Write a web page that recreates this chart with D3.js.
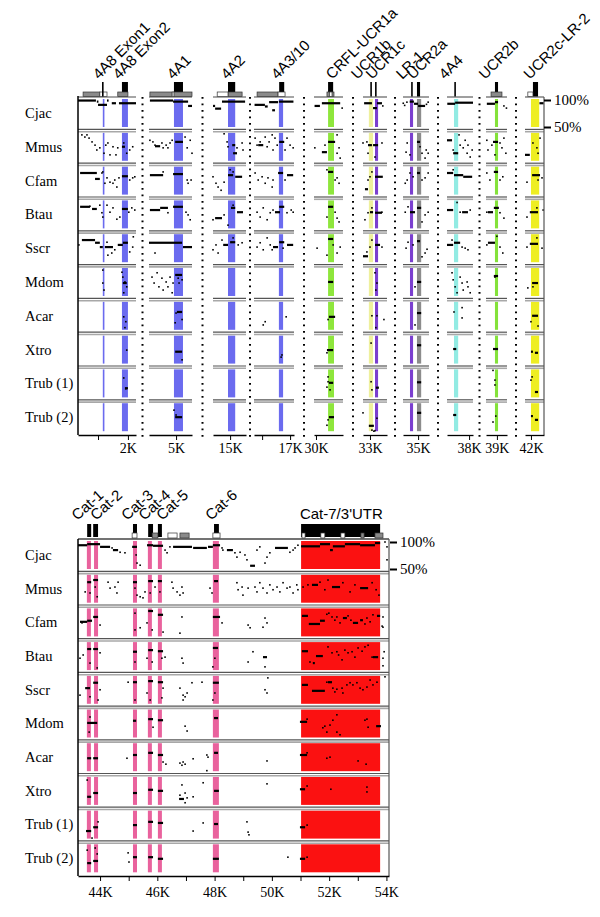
<!DOCTYPE html>
<html>
<head>
<meta charset="utf-8">
<script src="https://cdn.jsdelivr.net/npm/d3@7"></script>
<style>
  body { margin: 0; background: #fff; }
  svg { display: block; }
</style>
</head>
<body>
<div id="chart"></div>
<script>
// ---- data -------------------------------------------------------------
const species = ['Cjac', 'Mmus', 'Cfam', 'Btau', 'Sscr', 'Mdom', 'Acar', 'Xtro', 'Trub (1)', 'Trub (2)'];

// upper plot: separate genomic windows (kb)
const windows = [[0.33, 2.27], [4.1, 5.53], [14.43, 15.53], [15.71, 17.14], [29.93, 30.96],
                 [32.75, 33.61], [34.46, 35.39], [37.21, 38.14], [38.61, 39.36], [41.79, 42.46]];
const windowTicks = [[1, ''], [2, '2K'], [5, '5K'], [15, '15K'], [16, ''], [17, '17K'], [30, '30K'],
                     [33, '33K'], [35, '35K'], [38, '38K'], [39, '39K'], [42, '42K']];

// conserved elements [name, startKb, endKb]
const topFeatures = [['4A8 Exon1', 1.16, 1.2], ['4A8 Exon2', 1.8, 2.0], ['4A1', 4.93, 5.23], ['4A2', 14.93, 15.17],
                     ['4A3/10', 16.6, 16.75], ['CRFL-UCR1a', 30.43, 30.64], ['UCR1b', 32.96, 33.11], ['UCR1c', 33.18, 33.29],
                     ['LR-1', 34.71, 34.82], ['UCR2a', 34.96, 35.11], ['4A4', 37.46, 37.61], ['UCR2b', 38.93, 39.04],
                     ['UCR2c-LR-2', 42.0, 42.29]];
const topLabels = [['4A8 Exon1', 1.03], ['4A8 Exon2', 1.7], ['4A1', 4.9], ['4A2', 14.9], ['4A3/10', 16.54],
                   ['CRFL-UCR1a', 30.57], ['UCR1b', 32.54], ['UCR1c', 33.07], ['LR-1', 34.43], ['UCR2a', 34.82],
                   ['4A4', 37.14], ['UCR2b', 38.57], ['UCR2c-LR-2', 41.96]];
// gene model [startKb, endKb, kind]
const topGene = [[0.5, 1.06, 'utr'], [1.06, 1.3, 'white'], [1.16, 1.16, 'line'], [1.8, 2.0, 'cds'], [1.66, 2.0, 'utr'],
                 [4.13, 4.87, 'utr'], [4.87, 4.93, 'white'], [4.93, 5.23, 'cds'], [4.9, 5.53, 'utr'],
                 [14.57, 14.93, 'white'], [14.93, 15.17, 'cds'], [14.93, 15.4, 'utr'],
                 [15.82, 16.57, 'utr'], [16.61, 16.79, 'cds'], [16.57, 16.82, 'white'],
                 [30.43, 30.61, 'cds'], [30.39, 30.64, 'utr'], [30.48, 30.57, 'white'],
                 [33.04, 33.04, 'line'], [33.21, 33.21, 'line'], [34.78, 34.78, 'line'], [34.96, 35.07, 'cdsFull'],
                 [37.5, 37.5, 'line'], [38.93, 39.04, 'cds'], [38.79, 39.18, 'utr'],
                 [42.07, 42.25, 'cdsFull'], [41.89, 42.07, 'white']];

// lower plot: continuous 43-54 kb
const botDomain = [43.23, 54.09];
const botTicks = [44, 45, 46, 47, 48, 49, 50, 51, 52, 53, 54];
const botFeatures = [['Cat-1', 43.54, 43.68], ['Cat-2', 43.79, 43.93], ['Cat-3', 45.15, 45.29], ['Cat-4', 45.67, 45.81],
                     ['Cat-5', 46.02, 46.16], ['Cat-6', 47.94, 48.15], ["Cat-7/3'UTR", 51.02, 53.78]];
const botLabels = [['Cat-1', 43.2], ['Cat-2', 43.86], ['Cat-3', 44.94], ['Cat-4', 45.54], ['Cat-5', 46.16], ['Cat-6', 47.87]];
const botFlatLabel = ["Cat-7/3'UTR", 50.98];
const botGene = [[43.55, 43.69, 'cds'], [43.76, 43.93, 'cds'], [45.15, 45.29, 'cds'], [45.12, 45.29, 'white'],
                 [45.68, 45.85, 'cds'], [45.82, 46.02, 'utr'], [46.02, 46.16, 'cds'], [46.37, 46.69, 'white'],
                 [46.79, 47.11, 'utr'], [47.98, 48.15, 'cds'], [47.94, 48.19, 'white'], [51.02, 53.78, 'cds'],
                 [51.05, 51.16, 'white'], [51.71, 51.85, 'white'], [52.41, 52.55, 'white'],
                 [53.11, 53.22, 'utr'], [53.6, 53.88, 'utr']];

// % identity marks: [kb, pct] dot or [startKb, endKb, pct] run
const cjacTop = [[0.33,0.93,99],[0.96,1.0,97],[1.0,1.3,91],[1.3,1.32,99],[1.46,1.6,94],[1.7,2.27,94],
  [4.13,4.9,99],[4.9,5.4,97],[5.4,5.53,89],[14.43,14.5,89],[14.5,14.7,84],[14.73,15.5,97],
  [15.73,16.1,91],[16.1,16.2,88],[16.25,16.57,96],[16.36,16.46,81],[16.6,17.12,97],
  [29.95,30.14,89],[30.21,30.86,94],[30.93,85],[32.79,33.07,94],[33.11,33.25,85],[33.25,33.43,94],[33.46,89],
  [34.47,94],[34.52,90],[34.6,96],[34.7,34.85,97],[34.85,35.0,93],[35.0,35.25,89],[35.3,92],[35.36,96],
  [37.22,37.5,93],[37.5,38.14,95],[38.64,38.93,93],[38.93,39.04,96],[39.25,89],[39.34,85],[42.3,42.45,94]];
const mmusTop = [[0.46,98],[0.56,94],[0.63,98],[0.7,92],[0.8,85],[0.9,79],[0.96,70],[1.06,74],[1.2,64],[1.26,79],
  [1.33,83],[1.4,61],[1.5,76],[1.6,61],[1.66,74],[1.8,1.9,76],[1.86,83],[1.96,64],[2.06,70],[2.16,76],
  [4.13,88],[4.23,85],[4.3,79],[4.3,4.47,77],[4.53,83],[4.57,74],[4.67,79],[4.73,74],[4.8,83],[4.87,88],
  [4.97,5.23,85],[5.3,94],[5.37,74],[5.47,88],[5.53,64],
  [14.8,100],[14.9,85],[14.93,76],[15.07,15.17,79],[15.1,15.23,64],[15.23,74],[15.4,83],[15.43,70],
  [15.75,92],[15.82,79],[15.93,85],[15.86,16.04,79],[16.11,94],[16.18,76],[16.25,85],[16.36,98],[16.39,70],
  [16.46,92],[16.54,79],[16.61,16.79,85],[16.82,70],[16.89,92],[17.0,79],[17.11,74],
  [29.96,74],[30.21,30.39,66],[30.32,79],[30.43,30.68,85],[30.75,98],[30.75,64],[30.82,74],[30.86,55],
  [32.75,83],[32.89,85],[32.93,33.07,79],[33.11,33.29,79],[32.93,64],[33.18,57],[33.43,83],
  [34.57,66],[34.61,83],[34.71,61],[34.96,35.07,85],[35.07,76],[35.14,64],[35.25,55],[35.29,70],[35.36,64],
  [37.21,37.39,88],[37.43,70],[37.43,37.61,64],[37.64,98],[37.68,79],[37.79,74],[37.86,88],[37.93,64],
  [37.96,79],[38.04,57],[38.11,70],
  [38.64,88],[38.68,70],[38.82,79],[38.86,39.04,85],[38.93,61],[39.11,83],[39.18,74],[39.25,92],[39.32,64],
  [41.79,41.96,61],[42.07,83],[42.21,74],[42.32,92],[42.25,64]];
const cfamTop = [[0.4,0.96,90],[0.9,1.06,79],[1.13,90],[1.16,92],[1.23,71],[1.3,81],[1.4,73],[1.5,71],[1.56,77],
  [1.63,64],[1.7,81],[1.8,2.0,84],[2.06,77],[2.16,81],[2.23,83],
  [4.13,4.57,86],[4.57,92],[4.9,5.23,88],[5.37,77],[5.4,71],[5.5,77],
  [14.43,83],[14.53,71],[14.6,64],[14.7,58],[14.8,73],[14.93,15.1,86],[15.0,96],[15.1,92],[15.17,15.4,83],
  [15.75,90],[15.86,77],[16.0,83],[16.11,71],[16.21,81],[16.36,64],[16.39,77],[16.57,16.75,90],[16.82,77],[16.89,17.11,86],
  [30.39,96],[30.43,30.61,92],[30.68,77],[30.75,81],[30.82,71],
  [32.82,32.93,60],[32.93,77],[33.0,83],[33.07,92],[33.18,33.46,83],
  [34.54,71],[34.61,77],[34.71,90],[34.82,83],[34.96,35.07,90],[35.14,77],[35.25,81],[35.36,90],
  [37.21,37.43,90],[37.43,96],[37.46,37.79,86],[37.79,38.11,83],
  [38.64,90],[38.75,77],[38.89,39.04,92],[39.11,77],[39.21,83],
  [41.86,73],[42.04,42.32,86],[42.25,77],[42.39,81]];
const btauTop = [[0.4,0.73,90],[0.73,91],[0.8,0.96,86],[1.06,93],[1.13,79],[1.16,71],[1.3,93],[1.4,80],[1.5,88],
  [1.63,67],[1.73,71],[1.8,2.0,86],[2.03,80],[2.13,88],[2.23,84],
  [4.13,4.47,84],[4.47,4.73,88],[4.73,79],[4.9,5.23,90],[5.33,80],[5.4,75],[5.47,66],
  [14.43,66],[14.5,14.73,69],[14.8,75],[14.93,56],[15.03,15.17,88],[15.1,93],[15.23,15.43,80],
  [15.82,80],[15.93,71],[16.04,88],[16.18,66],[16.29,79],[16.39,84],[16.46,16.64,80],[16.61,16.79,90],
  [16.89,79],[17.04,84],[17.11,80],
  [30.39,71],[30.43,30.61,90],[30.68,80],[30.75,69],[30.82,62],
  [32.82,66],[32.93,79],[33.0,33.11,80],[33.18,33.43,79],[33.07,88],[33.43,80],
  [34.54,80],[34.64,90],[34.71,34.89,80],[34.96,35.11,88],[35.14,62],[35.25,75],[35.36,80],
  [37.21,37.43,84],[37.57,98],[37.68,80],[37.75,37.96,80],[38.04,84],
  [38.64,80],[38.68,38.86,80],[38.89,39.07,88],[39.11,79],[39.25,69],
  [41.86,71],[41.96,42.25,80],[42.21,88],[42.43,84]];
const sscrTop = [[0.36,82],[0.46,0.9,91],[0.9,1.06,86],[1.06,1.16,78],[1.23,1.5,78],[1.33,63],[1.46,67],[1.56,73],
  [1.3,87],[1.66,1.83,82],[1.83,2.0,86],[2.06,69],[2.16,78],[2.18,97],
  [4.1,5.2,86],[5.23,5.53,78],[4.3,67],
  [14.43,73],[14.53,82],[14.6,67],[14.73,91],[14.77,14.93,82],[15.0,15.17,87],[15.1,95],[15.27,82],[15.4,86],
  [15.82,78],[15.93,86],[16.04,73],[16.18,95],[16.29,82],[16.36,73],[16.39,16.57,78],[16.61,16.79,87],
  [16.75,76],[16.89,17.11,82],
  [30.04,76],[30.43,30.61,93],[30.61,82],[30.75,67],[30.86,78],[30.39,63],
  [32.75,32.93,61],[32.89,69],[33.0,78],[33.18,33.36,82],[33.07,91],[33.43,78],
  [34.57,76],[34.64,87],[34.82,82],[34.96,35.07,89],[35.14,60],[35.25,67],[35.32,74],
  [37.21,37.43,82],[37.39,91],[37.46,37.68,86],[37.75,78],[37.86,76],[37.96,73],
  [38.64,82],[38.68,38.93,86],[39.0,98],[39.11,78],[39.21,67],
  [41.86,78],[41.96,42.25,84],[42.21,95],[42.39,76]];
const mdomTop = [[1.16,98],[1.16,74],[1.2,61],[1.8,94],[1.83,85],[1.83,1.96,74],[1.9,76],[1.96,67],[1.86,56],
  [4.2,85],[4.27,74],[4.37,93],[4.43,67],[4.53,83],[4.57,61],[4.67,76],[4.73,67],[4.8,85],[4.87,56],[4.9,74],
  [4.97,5.2,89],[5.07,83],[5.2,80],[5.1,74],
  [30.43,30.61,76],[33.18,93],[33.25,74],[33.21,61],[34.96,35.11,76],[34.89,67],
  [37.39,93],[37.43,80],[37.5,67],[37.57,56],[37.68,85],[37.75,74],[37.79,61],[37.93,76],[37.96,67],[38.04,56],
  [38.89,39.04,87],[38.93,85],[41.89,65],[42.04,42.25,74],[42.07,67]];
const acarTop = [[1.86,74],[1.93,65],[1.9,54],[5.03,5.2,83],[4.97,63],[5.2,69],[5.0,81],
  [16.04,59],[16.11,65],[16.86,74],[30.46,30.68,74],[30.43,69],
  [33.07,76],[33.25,76],[33.5,69],[33.21,54],[34.96,35.11,81],[34.89,59],
  [37.46,83],[37.75,91],[37.75,72],[42.04,42.25,76],[42.0,65],[42.25,57]];
const xtroTop = [[1.96,75],[4.97,5.2,72],[5.2,57],[16.71,66],[16.68,62],[30.39,30.61,75],[30.39,70],
  [33.04,88],[34.96,35.11,84],[37.43,37.54,77],[38.86,39.04,77],[42.0,42.07,72],[42.14,42.25,70]];
const trub1Top = [[1.86,86],[1.93,66],[1.9,2.0,67],[30.43,79],[30.46,30.61,77],[30.39,69],[30.5,64],[30.43,88],
  [33.04,79],[33.21,33.32,68],[33.07,64],[34.96,35.11,78],[38.93,82],[38.93,73],[38.86,100],
  [42.04,88],[42.0,82],[42.14,42.25,60]];
const trub2Top = [[4.97,5.2,76],[4.93,89],[5.0,80],[30.46,30.64,76],[30.39,61],[30.43,71],
  [32.75,84],[32.96,33.14,60],[33.07,52],[33.14,50],[33.25,74],[33.18,51],[34.96,35.11,84],[37.43,37.54,80],
  [38.86,67],[38.96,78],[42.0,42.07,78],[42.14,42.25,71]];

const cjacBot = [[43.23,43.55,94],[43.55,44.0,96],[44.0,44.35,91],[44.42,89],[44.45,44.63,85],[44.7,81],[44.87,80],
  [45.12,45.29,91],[45.26,76],[45.29,61],[45.4,57],[45.64,45.85,94],[45.85,46.2,93],[46.27,85],[46.34,80],[46.44,91],
  [46.55,47.21,91],[47.25,47.73,89],[47.77,47.94,91],[47.94,48.19,94],[48.26,89],[48.29,85],[48.43,48.64,85],
  [48.71,80],[48.78,72],[48.89,81],[49.06,76],[49.13,67],[49.24,49.41,56],[49.48,85],[49.58,91],[49.76,61],
  [49.83,72],[49.93,80],[50.11,50.56,89],[50.63,81],[50.74,85],[50.81,89],[50.91,94],
  [51.02,51.68,92],[51.68,52.03,96],[52.03,52.13,85],[52.13,52.55,92],[52.55,53.08,96],[53.08,53.6,94],
  [53.6,53.78,98],[53.95,100],[54.02,91],[54.02,67]];
const mmusBot = [[43.55,43.69,88],[43.48,70],[43.65,68],[43.76,43.93,92],[43.83,79],[43.9,61],[44.28,88],[44.35,77],
  [44.52,79],[44.59,68],[44.63,88],[45.15,45.29,88],[45.22,77],[45.29,64],[45.4,61],[45.5,59],[45.57,70],
  [45.68,45.85,90],[45.75,68],[45.92,79],[46.02,46.16,90],[46.09,70],[46.51,88],[46.55,77],[46.69,70],[46.79,64],
  [46.9,68],[46.86,79],[47.84,77],[47.91,68],[47.98,48.12,90],[48.78,87],[48.82,74],[48.96,79],[48.99,64],
  [49.17,77],[49.41,79],[49.48,70],[49.58,87],[49.69,77],[49.83,68],[49.93,83],[50.04,74],[50.18,79],[50.28,70],
  [50.39,87],[50.53,77],[50.63,79],[50.74,68],[50.87,83],[50.91,74],
  [51.09,79],[51.26,83],[51.4,51.61,83],[51.68,88],[51.85,74],[51.96,92],[52.1,52.38,79],[52.48,87],[52.73,70],
  [52.9,83],[53.08,53.36,77],[53.5,87],[53.64,74],[53.74,64]];
const cfamBot = [[43.3,43.55,77],[43.37,75],[43.55,43.72,79],[43.76,43.93,86],[44.0,71],[45.22,93],[45.22,62],
  [45.4,66],[45.68,45.85,97],[45.64,75],[45.82,62],[46.02,46.2,90],[46.2,58],[46.86,86],[46.79,56],
  [47.94,48.19,86],[48.26,75],[49.17,71],[49.24,66],[49.76,84],[49.83,75],[49.69,67],
  [51.05,51.26,88],[51.29,51.68,73],[51.68,51.85,79],[51.92,91],[51.99,93],[52.1,86],[52.2,80],[52.27,86],
  [52.38,75],[52.48,52.62,84],[52.66,88],[52.76,80],[52.83,53.01,75],[53.08,53.18,80],[53.25,73],[53.32,84],
  [53.43,77],[53.53,90],[53.67,53.78,88],[53.88,86],[53.85,69],[53.88,67]];
const btauBot = [[43.3,72],[43.41,78],[43.55,43.69,89],[43.65,63],[43.76,43.93,89],[44.0,82],[43.9,54],
  [45.15,45.29,84],[45.22,65],[45.68,45.85,87],[45.64,72],[45.82,65],[46.02,46.2,85],[46.16,72],[46.27,74],
  [46.86,72],[46.9,63],[47.94,48.12,91],[48.01,72],[47.94,56],[49.17,65],[49.34,84],[49.69,49.83,74],[49.76,56],
  [51.05,51.26,85],[51.33,65],[51.43,51.5,63],[51.54,51.78,76],[51.96,93],[52.1,82],[52.27,84],[52.33,78],
  [52.45,69],[52.55,87],[52.66,82],[52.8,84],[52.9,74],[53.01,91],[53.15,85],[53.25,93],[53.36,96],[53.5,74],
  [53.53,53.71,74],[53.92,84],[53.88,72],[53.88,58]];
const sscrBot = [[43.3,66],[43.48,43.65,79],[43.65,63],[43.76,43.93,89],[44.0,76],[43.93,57],[44.98,90],
  [45.15,45.29,90],[45.22,57],[45.68,45.85,92],[45.64,70],[45.75,57],[46.02,46.2,90],[46.2,79],[46.16,61],
  [46.79,79],[46.9,66],[46.97,63],[47.04,70],[46.9,57],[47.21,89],[47.56,90],[47.94,48.15,89],[48.01,70],
  [47.94,57],[49.76,76],[49.83,70],[49.86,98],
  [51.05,51.26,85],[51.4,51.85,74],[51.92,90],[51.96,52.1,90],[52.13,79],[52.2,72],[52.27,77],[52.45,79],
  [52.48,70],[52.62,85],[52.73,89],[52.83,85],[52.97,89],[53.08,79],[53.18,76],[53.32,81],[53.43,94],[53.53,85],
  [53.67,90],[53.95,100]];
const mdomBot = [[43.55,43.9,77],[43.65,88],[43.62,60],[45.15,45.26,81],[45.68,45.85,84],[46.02,46.2,82],[45.85,69],
  [46.97,71],[47.04,62],[47.98,48.12,86],
  [50.98,51.23,79],[51.23,84],[51.78,68],[51.92,60],[51.85,71],[52.03,73],[52.13,82],[52.27,92],[52.27,60],
  [52.38,55],[53.25,82],[53.32,84],[53.36,69],[53.64,53.81,71]];
const acarBot = [[43.55,43.69,74],[43.76,43.93,74],[44.94,74],[45.15,45.29,80],[45.68,45.85,84],[46.02,46.2,80],
  [46.2,67],[46.3,63],[46.79,65],[46.86,61],[46.97,63],[46.9,67],[47.25,73],[47.73,80],[47.77,76],
  [47.98,48.12,84],[47.73,51],[49.83,69],
  [50.98,51.23,80],[51.23,84],[51.92,74],[52.03,76],[53.01,69],[53.29,63]];
const xtroBot = [[43.55,96],[43.55,43.69,65],[43.76,43.93,72],[45.15,45.29,72],[45.68,45.85,78],[46.02,46.2,76],
  [46.86,87],[46.79,68],[46.76,46.93,61],[46.97,72],[47.04,63],[46.97,54],[47.25,65],[47.6,91],
  [47.98,48.15,76],[49.83,89],
  [50.98,51.16,79],[51.23,85],[52.06,79],[53.32,83],[53.32,74]];
const trub1Bot = [[43.51,43.69,64],[43.72,51],[43.76,43.93,71],[43.93,81],[45.15,45.29,75],[45.68,45.85,81],
  [46.02,46.2,79],[47.25,64],[47.6,79],[47.98,48.12,77],[49.13,81],[49.17,62],[49.2,57],
  [50.98,51.16,71],[51.23,75]];
const trub2Bot = [[43.55,91],[43.55,43.69,67],[43.76,43.93,71],[43.83,95],[43.9,84],[44.98,86],[45.01,69],
  [45.15,45.29,78],[45.68,45.85,78],[46.02,46.2,75],[47.94,48.15,75],[50.56,78],
  [50.98,51.16,75],[51.23,78]];

const topRows = [cjacTop, mmusTop, cfamTop, btauTop, sscrTop, mdomTop, acarTop, xtroTop, trub1Top, trub2Top];
const botRows = [cjacBot, mmusBot, cfamBot, btauBot, sscrBot, mdomBot, acarBot, xtroBot, trub1Bot, trub2Bot];

// ---- layout & style ---------------------------------------------------
const W = 600, H = 917;
const upper = { y0: 97, rowH: 33.8, left: 78, right: 544 };
const lower = { y0: 539, rowH: 33.7, left: 78, right: 389 };
const winPx = [[78, 136], [149, 192], [213, 246], [254, 294], [314, 343], [363, 387], [403, 429], [447, 473], [486, 507], [525, 544]];

const featColor = {
  '4A8 Exon1': '#6b6bef', '4A8 Exon2': '#6b6bef', '4A1': '#6b6bef', '4A2': '#6b6bef', '4A3/10': '#6b6bef',
  'CRFL-UCR1a': '#8ee63c', 'UCR1b': '#eef09c', 'UCR1c': '#7b3fcf', 'LR-1': '#7b3fcf', 'UCR2a': '#8c8c8c',
  '4A4': '#92ebe3', 'UCR2b': '#84e23a', 'UCR2c-LR-2': '#eeee22',
  'Cat-1': '#e9629d', 'Cat-2': '#e9629d', 'Cat-3': '#e9629d', 'Cat-4': '#e9629d', 'Cat-5': '#e9629d',
  'Cat-6': '#e9629d', "Cat-7/3'UTR": '#fb1111'
};
const SANS = '"Liberation Sans", Arial, sans-serif';
const SERIF = '"Liberation Serif", "Times New Roman", serif';

const svg = d3.select('#chart').append('svg')
  .attr('width', W).attr('height', H)
  .style('background', '#fff');

// ---- scales -----------------------------------------------------------
const winScales = windows.map((d, i) => d3.scaleLinear().domain(d).range(winPx[i]));
function winOf(kb) {
  let best = 0, bd = Infinity;
  windows.forEach((w, i) => {
    const dd = kb < w[0] ? w[0] - kb : (kb > w[1] ? kb - w[1] : 0);
    if (dd < bd) { bd = dd; best = i; }
  });
  return best;
}
const xTop = (kb, ref) => winScales[winOf(ref === undefined ? kb : ref)](kb);
const xBot = d3.scaleLinear().domain(botDomain).range([lower.left, lower.right]);

function rowScale(panel, i) {
  const r0 = panel.y0 + i * panel.rowH;
  return d3.scaleLinear().domain([50, 100]).range([r0 + 30, r0 + 3]).clamp(true);
}

// ---- drawing helpers --------------------------------------------------
function drawFeatureBars(g, feats, xOf, y) {
  g.selectAll(null).data(feats).join('rect')
    .attr('x', d => xOf(d[1]))
    .attr('y', y(100) - 1)
    .attr('width', d => Math.max(1.6, xOf(d[2], d[1]) - xOf(d[1])))
    .attr('height', y(50) - y(100) + 1)
    .attr('fill', d => featColor[d[0]]);
}

function drawMarks(g, marks, xOf, y) {
  g.selectAll(null).data(marks).join('rect')
    .attr('x', d => d.length === 3 ? xOf(d[0]) : xOf(d[0]) - 0.8)
    .attr('y', d => y(d[d.length - 1]) - (d.length === 3 ? 1.1 : 0.8))
    .attr('width', d => d.length === 3 ? Math.max(1.6, xOf(d[1], d[0]) - xOf(d[0])) : 1.6)
    .attr('height', d => d.length === 3 ? 2.2 : 1.6)
    .attr('fill', '#000');
}

function drawSeparator(g, x0, x1, yb) {
  g.append('line').attr('x1', x0).attr('x2', x1).attr('y1', yb - 1.4).attr('y2', yb - 1.4)
    .attr('stroke', '#555').attr('stroke-width', 1.2);
  g.append('line').attr('x1', x0).attr('x2', x1).attr('y1', yb + 0.9).attr('y2', yb + 0.9)
    .attr('stroke', '#a8a8a8').attr('stroke-width', 1.6);
}

function drawGene(g, parts, xOf, ys) {
  const order = { cds: 0, cdsFull: 0, utr: 1, white: 2, line: 3 };
  const sorted = parts.slice().sort((a, b) => order[a[2]] - order[b[2]]);
  sorted.forEach(p => {
    const x0 = xOf(p[0]), x1 = xOf(p[1], p[0]);
    if (p[2] === 'line') {
      g.append('line').attr('x1', x0).attr('x2', x0).attr('y1', ys.cds0).attr('y2', ys.low1)
        .attr('stroke', '#000').attr('stroke-width', 1.6);
      return;
    }
    const isCds = p[2] === 'cds' || p[2] === 'cdsFull';
    const yA = isCds ? ys.cds0 : ys.low0;
    const yB = p[2] === 'cds' ? ys.cds1 : ys.low1;
    g.append('rect').attr('x', x0).attr('y', yA)
      .attr('width', Math.max(1.5, x1 - x0)).attr('height', yB - yA)
      .attr('fill', isCds ? '#000' : (p[2] === 'utr' ? '#8a8a8a' : '#fff'))
      .attr('stroke', isCds ? 'none' : '#333').attr('stroke-width', 0.7);
  });
}

// ---- upper plot -------------------------------------------------------
const gU = svg.append('g');
species.forEach((sp, i) => {
  const y = rowScale(upper, i);
  drawFeatureBars(gU, topFeatures, xTop, y);
});
// row frames per window
winPx.forEach(([x0, x1]) => {
  gU.append('line').attr('x1', x0).attr('x2', x1).attr('y1', upper.y0).attr('y2', upper.y0)
    .attr('stroke', '#888').attr('stroke-width', 1.6);
  for (let i = 1; i < species.length; i++) drawSeparator(gU, x0, x1, upper.y0 + i * upper.rowH);
});
species.forEach((sp, i) => {
  const y = rowScale(upper, i);
  drawMarks(gU, topRows[i], xTop, y);
});
// dotted window dividers
const yEndU = upper.y0 + species.length * upper.rowH;
for (let k = 0; k < winPx.length - 1; k++) {
  const xd = (winPx[k][1] + winPx[k + 1][0]) / 2;
  gU.append('line').attr('x1', xd).attr('x2', xd).attr('y1', upper.y0).attr('y2', yEndU + 2)
    .attr('stroke', '#000').attr('stroke-width', 2).attr('stroke-dasharray', '1.8,4.7');
}
// left and right frames
gU.append('line').attr('x1', upper.left).attr('x2', upper.left).attr('y1', upper.y0 - 1).attr('y2', yEndU)
  .attr('stroke', '#000').attr('stroke-width', 1.5);
gU.append('line').attr('x1', upper.right).attr('x2', upper.right).attr('y1', upper.y0).attr('y2', yEndU)
  .attr('stroke', '#555').attr('stroke-width', 1.2);
// x axes per window
windows.forEach((w, k) => {
  const ticks = windowTicks.filter(t => winOf(t[0]) === k);
  const ax = d3.axisBottom(winScales[k]).tickValues(ticks.map(t => t[0]))
    .tickFormat(v => ticks.find(t => t[0] === v)[1]).tickSize(5).tickSizeOuter(0);
  const g = gU.append('g').attr('transform', `translate(0,${yEndU})`).call(ax);
  g.select('.domain').attr('stroke', '#000').attr('stroke-width', 1.3);
  g.selectAll('text').attr('font-family', SERIF).attr('font-size', 14).attr('fill', '#000');
});
// % axis
{
  const y = rowScale(upper, 0);
  const ax = d3.axisRight(y).tickValues([50, 100]).tickFormat(d => d + '%').tickSize(7).tickSizeOuter(0);
  const g = gU.append('g').attr('transform', `translate(${upper.right},0)`).call(ax);
  g.select('.domain').remove();
  g.selectAll('line').attr('stroke-width', 2);
  g.selectAll('text').attr('font-family', SERIF).attr('font-size', 15).attr('fill', '#000');
}
drawGene(gU, topGene, xTop, { cds0: 82, cds1: 92.5, low0: 92, low1: 96.5 });
gU.selectAll('text.feat').data(topLabels).join('text').attr('class', 'feat')
  .attr('transform', d => `translate(${xTop(d[1])},80) rotate(-45)`)
  .attr('font-family', SANS).attr('font-size', 15).text(d => d[0]);
gU.selectAll('text.sp').data(species).join('text').attr('class', 'sp')
  .attr('x', 25).attr('y', (d, i) => upper.y0 + i * upper.rowH + upper.rowH / 2 + 4)
  .attr('font-family', SERIF).attr('font-size', 14.5).text(d => d);

// ---- lower plot -------------------------------------------------------
const gL = svg.append('g');
const yEndL = lower.y0 + species.length * lower.rowH;
species.forEach((sp, i) => {
  const y = rowScale(lower, i);
  drawFeatureBars(gL, botFeatures, xBot, y);
});
gL.append('line').attr('x1', lower.left).attr('x2', lower.right).attr('y1', lower.y0).attr('y2', lower.y0)
  .attr('stroke', '#444').attr('stroke-width', 1.3);
for (let i = 1; i < species.length; i++) drawSeparator(gL, lower.left, lower.right, lower.y0 + i * lower.rowH);
species.forEach((sp, i) => {
  const y = rowScale(lower, i);
  drawMarks(gL, botRows[i], xBot, y);
});
gL.append('line').attr('x1', lower.left).attr('x2', lower.left).attr('y1', lower.y0).attr('y2', yEndL)
  .attr('stroke', '#000').attr('stroke-width', 1.5);
gL.append('line').attr('x1', lower.right).attr('x2', lower.right).attr('y1', lower.y0).attr('y2', yEndL)
  .attr('stroke', '#555').attr('stroke-width', 1.2);
{
  const ax = d3.axisBottom(xBot).tickValues(botTicks)
    .tickFormat(d => d % 2 === 0 ? d + 'K' : '').tickSize(5).tickPadding(6).tickSizeOuter(0);
  const g = gL.append('g').attr('transform', `translate(0,${yEndL})`).call(ax);
  g.select('.domain').attr('stroke', '#000').attr('stroke-width', 1.3);
  g.selectAll('text').attr('font-family', SERIF).attr('font-size', 14).attr('fill', '#000');
}
{
  const y = rowScale(lower, 0);
  const ax = d3.axisRight(y).tickValues([50, 100]).tickFormat(d => d + '%').tickSize(7).tickSizeOuter(0);
  const g = gL.append('g').attr('transform', `translate(${lower.right + 1},0)`).call(ax);
  g.select('.domain').remove();
  g.selectAll('line').attr('stroke-width', 2);
  g.selectAll('text').attr('font-family', SERIF).attr('font-size', 15).attr('fill', '#000');
}
drawGene(gL, botGene, xBot, { cds0: 524, cds1: 537, low0: 533, low1: 538 });
gL.selectAll('text.feat').data(botLabels).join('text').attr('class', 'feat')
  .attr('transform', d => `translate(${xBot(d[1])},521) rotate(-42)`)
  .attr('font-family', SANS).attr('font-size', 15).text(d => d[0]);
gL.append('text').attr('x', xBot(botFlatLabel[1])).attr('y', 519)
  .attr('font-family', SANS).attr('font-size', 15).text(botFlatLabel[0]);
gL.selectAll('text.sp').data(species).join('text').attr('class', 'sp')
  .attr('x', 25).attr('y', (d, i) => lower.y0 + i * lower.rowH + lower.rowH / 2 + 4)
  .attr('font-family', SERIF).attr('font-size', 14.5).text(d => d);
</script>
</body>
</html>
